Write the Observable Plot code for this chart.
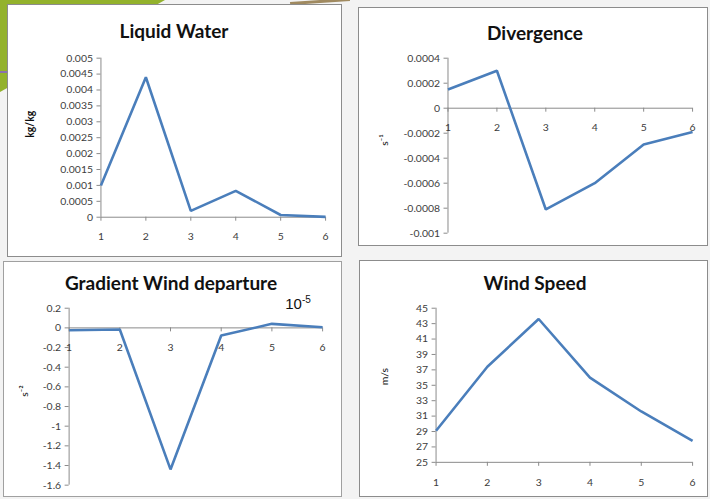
<!DOCTYPE html>
<html>
<head>
<meta charset="utf-8">
<script src="https://cdn.jsdelivr.net/npm/d3@7"></script>
<script src="https://cdn.jsdelivr.net/npm/@observablehq/plot@0.6"></script>
<style>
  html, body { margin: 0; padding: 0; }
  body { width: 710px; height: 499px; position: relative; overflow: hidden; background: #f3f3f3; font-family: Lato, "Open Sans", sans-serif; }
  .deco { position: absolute; left: 0; top: 0; width: 200px; height: 110px; background: #93b22c; clip-path: polygon(0 0, 165px 0, 0 92px); }
  .deco2 { position: absolute; left: 0; top: 71px; width: 14px; height: 2px; background: #8a6fb0; }
  .deco3 { position: absolute; left: 290px; top: 0; width: 60px; height: 3px; background: #a08a60; transform: rotate(-4deg); }
  .panel { position: absolute; background: #fff; box-sizing: border-box; }
  .panel svg { position: absolute; left: 0; top: 0; overflow: visible; }
  .title { position: absolute; font-family: Lato, sans-serif; font-weight: bold; font-size: 19px; color: #111; white-space: nowrap; transform: translate(-50%, -50%); }
  .exp { position: absolute; font-family: "Liberation Sans", Arial, sans-serif; font-size: 15px; color: #111; white-space: nowrap; transform: translate(-50%, -50%); }
  .exp sup { font-size: 10px; }
</style>
</head>
<body>
<div class="deco"></div>
<div class="deco2"></div>
<div class="deco3"></div>
<div id="root"></div>
<script>
// ---- data ----
const xs = [1, 2, 3, 4, 5, 6];

const liquidWater = [0.001, 0.0044, 0.0002, 0.00083, 0.00007, 0.00001];
const divergence = [0.00015, 0.0003, -0.00081, -0.0006, -0.00029, -0.00019];
const gradientWind = [-0.024, -0.017, -1.44, -0.078, 0.041, 0.007];
const windSpeed = [29.1, 37.4, 43.6, 36.0, 31.6, 27.8];

const xTickLabels = ["1", "2", "3", "4", "5", "6"];

const lwTicks = [0, 0.0005, 0.001, 0.0015, 0.002, 0.0025, 0.003, 0.0035, 0.004, 0.0045, 0.005];
const lwTickLabels = ["0", "0.0005", "0.001", "0.0015", "0.002", "0.0025", "0.003", "0.0035", "0.004", "0.0045", "0.005"];

const divTicks = [-0.001, -0.0008, -0.0006, -0.0004, -0.0002, 0, 0.0002, 0.0004];
const divTickLabels = ["-0.001", "-0.0008", "-0.0006", "-0.0004", "-0.0002", "0", "0.0002", "0.0004"];

const gwTicks = [-1.6, -1.4, -1.2, -1, -0.8, -0.6, -0.4, -0.2, 0, 0.2];
const gwTickLabels = ["-1.6", "-1.4", "-1.2", "-1", "-0.8", "-0.6", "-0.4", "-0.2", "0", "0.2"];

const wsTicks = [25, 27, 29, 31, 33, 35, 37, 39, 41, 43, 45];
const wsTickLabels = ["25", "27", "29", "31", "33", "35", "37", "39", "41", "43", "45"];

const titles = ["Liquid Water", "Divergence", "Gradient Wind departure", "Wind Speed"];
const unitLabels = ["kg/kg", "s\u207B\u00B9", "s\u207B\u00B2", "m/s"];

// ---- layout ----
const panels = [
  { box: [7, 4, 335, 253], border: "1px solid #8c8c8c",
    margins: [53, 16, 40, 93], values: liquidWater, ticks: lwTicks, labels: lwTickLabels,
    base: 0, title: titles[0], titlePos: [166, 25], unit: unitLabels[0], unitDx: -71, unitBold: true },
  { box: [358, 7, 350, 239], border: "1px solid #8c8c8c",
    margins: [50, 15, 13, 89], values: divergence, ticks: divTicks, labels: divTickLabels,
    base: 0, title: titles[1], titlePos: [176, 24], unit: unitLabels[1], unitDx: -64, unitBold: false },
  { box: [3, 261, 339, 236], border: "1px solid #a0a0a0",
    margins: [46, 19, 12, 65], values: gradientWind, ticks: gwTicks, labels: gwTickLabels,
    base: 0, title: titles[2], titlePos: [167, 20], unit: unitLabels[2], unitDx: -45, unitBold: false, exp: [294, 41] },
  { box: [359, 260, 349, 237], border: "1px solid #8c8c8c",
    margins: [47, 15, 35, 76], values: windSpeed, ticks: wsTicks, labels: wsTickLabels,
    base: 25, title: titles[3], titlePos: [175, 21], unit: unitLabels[3], unitDx: -52, unitBold: false }
];

const root = document.getElementById("root");
const axisColor = "#8a8a8a";
const labelColor = "#3c3c3c";

for (const p of panels) {
  const [left, top, w, h] = p.box;
  const div = document.createElement("div");
  div.className = "panel";
  Object.assign(div.style, { left: left + "px", top: top + "px", width: w + "px", height: h + "px", border: p.border });
  root.appendChild(div);

  const data = xs.map((x, i) => ({ x, v: p.values[i] }));
  const yTickData = p.ticks.map((t, i) => ({ t, label: p.labels[i] }));
  const xTickData = xs.map((x, i) => ({ x, label: xTickLabels[i] }));
  const [mt, mr, mb, ml] = p.margins;
  const ymin = p.ticks[0], ymax = p.ticks[p.ticks.length - 1];

  const chart = Plot.plot({
    width: w, height: h,
    marginTop: mt, marginRight: mr, marginBottom: mb, marginLeft: ml,
    x: { domain: [1, 6], axis: null },
    y: { domain: [ymin, ymax], axis: null },
    style: { fontFamily: "Lato, sans-serif", fontSize: "10.5px", color: labelColor, background: "transparent", overflow: "visible" },
    marks: [
      // y axis line and ticks
      Plot.ruleX([1], { y1: ymin, y2: ymax, stroke: axisColor, strokeWidth: 1 }),
      Plot.ruleY(yTickData, { y: "t", x1: 1, x2: 1, insetLeft: -4, insetRight: 0, stroke: axisColor }),
      Plot.text(yTickData, { x: 1, y: "t", text: "label", textAnchor: "end", dx: -8, fill: labelColor, fontSize: 10.5 }),
      // x axis line and ticks
      Plot.ruleY([p.base], { x1: 1, x2: 6, stroke: axisColor, strokeWidth: 1 }),
      Plot.ruleX(xTickData, { x: "x", y1: p.base, y2: p.base, insetTop: 0, insetBottom: -4, stroke: axisColor }),
      Plot.text(xTickData, { x: "x", y: p.base, text: "label", dy: 20, fill: labelColor, fontSize: 10.5 }),
      // unit label
      Plot.text([p.unit], { text: d => d, frameAnchor: "left", dx: p.unitDx, rotate: -90, fontSize: 10.5, fontWeight: p.unitBold ? "bold" : "normal", fill: "#111" }),
      // series line
      Plot.line(data, { x: "x", y: "v", stroke: "#4a7ebb", strokeWidth: 2.6, strokeLinejoin: "miter", strokeLinecap: "butt" })
    ]
  });
  div.appendChild(chart);

  const t = document.createElement("div");
  t.className = "title";
  t.textContent = p.title;
  t.style.left = p.titlePos[0] + "px";
  t.style.top = p.titlePos[1] + "px";
  div.appendChild(t);

  if (p.exp) {
    const e = document.createElement("div");
    e.className = "exp";
    e.innerHTML = "10<sup>-5</sup>";
    e.style.left = p.exp[0] + "px";
    e.style.top = p.exp[1] + "px";
    div.appendChild(e);
  }
}
</script>
</body>
</html>
